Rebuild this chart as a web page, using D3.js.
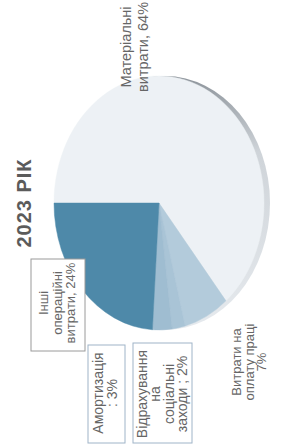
<!DOCTYPE html>
<html>
<head>
<meta charset="utf-8">
<script src="https://cdn.jsdelivr.net/npm/d3@7"></script>
<style>
  html, body { margin: 0; padding: 0; background: #fff; }
  svg { display: block; font-family: "Liberation Sans", Arial, sans-serif; }
</style>
</head>
<body>
<div id="chart"></div>
<script>
// Data (chart is printed rotated 90 degrees)
const title = '2023 РІК';
const categories = ['Матеріальні витрати', 'Витрати на оплату праці', 'Відрахування на соціальні заходи', 'Амортизація', 'Інші операційні витрати'];
const values = [64, 7, 2, 3, 24];
const labelLines = [
    ['Матеріальні', 'витрати, 64%'],
    ['Витрати на', 'оплату праці', '7%'],
    ['Відрахування', 'на', 'соціальні', 'заходи ; 2%'],
    ['Амортизація', ': 3%'],
    ['Інші', 'операційні', 'витрати, 24%']
];

const colors = ['#edf1f5', '#b3cbdb', '#a9c4d6', '#9fbdd1', '#4e89a9'];

// label placement in the unrotated frame (448 x 281)
const labelPos = [
    {x: 401, y: 131, dy: 17, size: 14.5, box: null},
    {x: 86, y: 241, dy: 12.5, size: 13, box: null},
    {x: 54, y: 147, dy: 13.3, size: 14, box: [5, 133, 100, 59]},
    {x: 55, y: 103, dy: 14, size: 14, box: [5, 88, 98, 37]},
    {x: 145, y: 48, dy: 13.7, size: 13, box: [97, 31, 92, 54]}
];

const W = 281, H = 448;
const svg = d3.select('#chart').append('svg')
    .attr('width', W)
    .attr('height', H);

const defs = svg.append('defs');
const grad = defs.append('linearGradient').attr('id', 'side')
    .attr('x1', '0%').attr('x2', '100%').attr('y1', '0%').attr('y2', '0%');
grad.append('stop').attr('offset', '0%').attr('stop-color', '#e6eaee');
grad.append('stop').attr('offset', '70%').attr('stop-color', '#cfd4d9');
grad.append('stop').attr('offset', '100%').attr('stop-color', '#8d949b');

// everything is drawn upright and then turned a quarter turn left
const g = svg.append('g').attr('transform', `translate(0,${H}) rotate(-90)`);

const cx = 245, cy = 159, R = 127, squash = 105 / 127, depth = 6;

const pie = d3.pie().sort(null).startAngle(0).endAngle(2 * Math.PI);
const arcs = pie(values);
const arc = d3.arc().innerRadius(0).outerRadius(R);

// 3D side of the pie
g.append('g')
    .attr('transform', `translate(${cx},${cy + depth}) scale(1,${squash})`)
    .append('path')
    .attr('d', d3.arc().innerRadius(0).outerRadius(R).startAngle(0).endAngle(2 * Math.PI)())
    .attr('fill', 'url(#side)');

const pieTop = g.append('g')
    .attr('transform', `translate(${cx},${cy}) scale(1,${squash})`);

pieTop.selectAll('path.slice')
    .data(arcs)
    .join('path')
    .attr('class', 'slice')
    .attr('d', arc)
    .attr('fill', (d, i) => colors[i])
    .attr('stroke', (d, i) => colors[i])
    .attr('stroke-width', 0.5);

// title
g.append('text')
    .attr('x', cx)
    .attr('y', 31)
    .attr('text-anchor', 'middle')
    .attr('font-size', 20)
    .attr('font-weight', 'bold')
    .attr('letter-spacing', 1)
    .attr('fill', '#5b5b5b')
    .text(title);

// data labels
categories.forEach((c, i) => {
    const p = labelPos[i];
    if (p.box) {
        g.append('rect')
            .attr('x', p.box[0])
            .attr('y', p.box[1])
            .attr('width', p.box[2])
            .attr('height', p.box[3])
            .attr('fill', '#fff')
            .attr('stroke', i === 4 ? '#9a9a9a' : '#9fb4c8')
            .attr('stroke-width', 1);
    }
    const t = g.append('text')
        .attr('text-anchor', 'middle')
        .attr('font-size', p.size)
        .attr('fill', '#666');
    labelLines[i].forEach((line, j) => {
        t.append('tspan')
            .attr('x', p.x)
            .attr('y', p.y + j * p.dy)
            .text(line);
    });
});
</script>
</body>
</html>
